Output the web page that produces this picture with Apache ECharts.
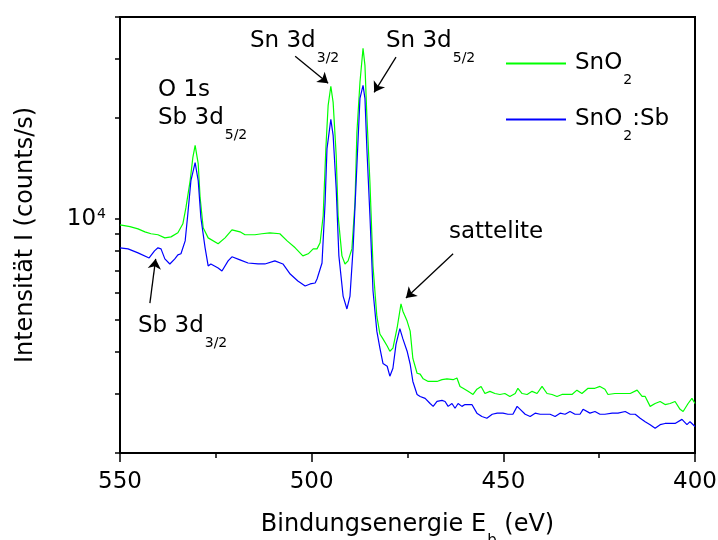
<!DOCTYPE html>
<html><head><meta charset="utf-8">
<script src="https://cdn.jsdelivr.net/npm/echarts@6/dist/echarts.min.js"></script>
<style>html,body{margin:0;padding:0;background:#fff}#c{width:718px;height:540px}</style>
</head><body><div id="c"></div>
<script>
const FONT = 'DejaVu Sans';
const seriesNames = ['SnO2', 'SnO2:Sb'];
// [binding energy (eV), intensity (counts/s)]
const snO2 = [[550.0,9590],[547.4,9470],[545.3,9330],[543.5,9140],[541.9,9020],[540.1,8960],[538.3,8770],[536.7,8830],[534.9,9080],[533.6,9660],[532.8,10790],[531.7,13000],[531.0,15220],[530.4,16550],[529.6,14610],[529.1,11560],[528.3,9400],[527.0,8770],[524.4,8420],[522.6,8770],[520.8,9270],[518.7,9140],[517.4,8960],[514.8,8960],[513.0,9020],[510.9,9080],[508.3,9020],[506.4,8590],[504.3,8190],[502.3,7750],[500.9,7860],[499.6,8130],[498.6,8130],[497.8,8480],[497.0,10210],[496.3,16200],[495.7,21800],[495.0,24850],[494.4,22250],[493.6,15440],[493.1,10210],[492.1,7750],[491.3,7330],[490.5,7485],[489.5,8130],[488.7,11170],[488.2,18090],[487.4,25540],[486.6,32280],[486.1,28690],[485.6,20300],[484.8,12820],[484.0,7230],[483.0,5120],[482.2,4530],[481.4,4380],[480.3,4170],[479.6,4025],[478.8,4110],[477.7,4730],[476.7,5570],[476.2,5300],[475.1,4950],[474.3,4620],[473.6,3830],[472.5,3460],[471.7,3440],[470.9,3330],[469.6,3270],[468.3,3270],[467.3,3270],[466.0,3310],[464.7,3330],[463.1,3310],[462.1,3350],[461.3,3160],[460.5,3120],[459.2,3055],[457.9,2990],[456.9,3100],[455.8,3160],[454.8,3010],[453.5,3055],[452.2,3010],[450.9,2990],[449.6,3010],[448.3,2950],[446.9,3010],[446.2,3120],[445.1,3010],[443.8,2990],[442.5,3055],[441.2,3010],[439.9,3160],[438.6,3010],[437.3,2990],[436.0,2950],[434.7,2990],[433.4,2990],[432.1,2990],[430.8,3080],[429.5,3010],[427.9,3120],[426.1,3120],[424.8,3160],[423.5,3100],[422.7,2990],[420.9,3010],[419.6,3010],[418.2,3010],[416.9,3010],[415.1,3080],[413.8,2950],[413.0,2950],[411.7,2755],[410.4,2810],[409.1,2850],[407.8,2790],[406.5,2810],[405.2,2850],[403.9,2700],[403.1,2660],[401.8,2810],[400.8,2910],[400.0,2810]];
const snO2Sb = [[550.0,8190],[547.9,8130],[545.3,7910],[542.4,7640],[541.0,8020],[540.1,8190],[539.3,8130],[538.3,7590],[537.0,7330],[535.7,7590],[534.9,7800],[534.1,7860],[533.0,8590],[532.3,10350],[531.5,13000],[530.4,14710],[529.6,13000],[528.9,10070],[527.8,8190],[527.0,7230],[526.3,7330],[524.4,7130],[523.4,6985],[521.8,7485],[520.8,7700],[518.7,7540],[516.6,7380],[514.0,7330],[512.2,7330],[509.6,7485],[507.5,7330],[505.6,6840],[503.6,6520],[501.7,6300],[500.4,6390],[499.1,6430],[498.6,6610],[497.3,7380],[496.5,11170],[496.0,16200],[495.0,19790],[494.4,17730],[493.6,12300],[492.9,7750],[491.8,5880],[490.8,5380],[490.0,5880],[489.2,8130],[488.2,14420],[487.4,22880],[486.6,25020],[486.1,22880],[485.6,16200],[484.8,10210],[484.0,6100],[483.0,4620],[482.2,4110],[481.4,3700],[480.3,3630],[479.6,3390],[478.8,3580],[478.0,4220],[477.0,4700],[476.2,4380],[475.1,4025],[474.3,3680],[473.6,3270],[472.5,2990],[471.7,2950],[470.4,2910],[469.1,2810],[468.3,2755],[467.3,2850],[466.0,2870],[465.2,2850],[464.4,2755],[463.4,2810],[462.6,2720],[461.8,2810],[460.8,2755],[460.0,2790],[459.5,2790],[458.2,2790],[456.9,2630],[455.6,2570],[454.3,2540],[452.9,2610],[451.6,2630],[450.1,2630],[448.8,2610],[447.5,2610],[446.4,2755],[445.6,2700],[444.3,2610],[443.0,2570],[441.7,2630],[440.4,2610],[439.1,2610],[437.8,2610],[436.5,2570],[435.2,2630],[433.9,2610],[432.6,2660],[431.3,2610],[430.0,2610],[429.2,2700],[427.4,2630],[426.1,2660],[424.8,2610],[423.5,2610],[421.6,2630],[420.1,2630],[418.2,2660],[416.9,2610],[415.6,2610],[414.3,2540],[413.0,2480],[411.7,2430],[410.4,2370],[409.1,2430],[407.8,2450],[406.5,2450],[405.2,2450],[403.4,2520],[402.1,2430],[401.3,2480],[400.0,2400]];
const yTickValues = [2000,3000,4000,5000,6000,7000,8000,9000,10000,20000,30000,40000];
const yLabelValues = [10000];
const xMin = 400, xMax = 550, xInterval = 50;
const yMin = 2000, yMax = 40000;

const richMain = {fontFamily: FONT, fontSize: 23, lineHeight: 23, verticalAlign: 'top', color: '#000'};
const richSub = {fontFamily: FONT, fontSize: 14, lineHeight: 14, verticalAlign: 'top', padding: [21, 0, 0, 1], color: '#000'};
const annRich = {n: richMain, s: richSub};

function ann(x, y, text) {
  return {type: 'text', x: x, y: y, silent: true,
    style: {text: text, rich: annRich, fill: '#000', font: '23px ' + FONT, verticalAlign: 'top', align: 'left'}};
}
function arrow(a, b) {
  return [{coord: a}, {coord: b}];
}

const chart = echarts.init(document.getElementById('c'), null, {renderer: 'canvas'});
chart.setOption({
  animation: false,
  backgroundColor: '#fff',
  grid: {left: 120, top: 17, right: 23, bottom: 87, outerBoundsMode: 'none', containLabel: false,
    show: true, borderColor: '#000', borderWidth: 2, backgroundColor: 'transparent'},
  legend: {
    data: seriesNames, orient: 'vertical', left: 505, top: 52, padding: 0,
    itemWidth: 60, itemHeight: 14, itemGap: 21, selectedMode: false,
    itemStyle: {opacity: 0},
    formatter: function (name) {
      return name === 'SnO2' ? '{f|SnO}{s|2}' : '{f|SnO}{s|2}{n|:Sb}';
    },
    textStyle: {fontFamily: FONT, fontSize: 23, color: '#000', rich: {
      f: {fontFamily: FONT, fontSize: 23, lineHeight: 23, verticalAlign: 'top', padding: [0, 0, 0, 4], color: '#000'},
      n: {fontFamily: FONT, fontSize: 23, lineHeight: 23, verticalAlign: 'top', color: '#000'},
      s: {fontFamily: FONT, fontSize: 14, lineHeight: 14, verticalAlign: 'top', padding: [21, 0, 0, 1], color: '#000'}
    }}
  },
  xAxis: {
    type: 'value', min: xMin, max: xMax, interval: xInterval, inverse: true,
    name: '{n|Bindungsenergie E}{s|b}{n| (eV)}', nameLocation: 'middle', nameGap: 60,
    nameTextStyle: {fontFamily: FONT, fontSize: 24, color: '#000', rich: {
      n: {fontFamily: FONT, fontSize: 24, lineHeight: 24, verticalAlign: 'top', color: '#000'},
      s: {fontFamily: FONT, fontSize: 15, lineHeight: 15, verticalAlign: 'top', padding: [21, 0, 0, 1], color: '#000'}
    }},
    axisLine: {show: true, onZero: false, lineStyle: {color: '#000', width: 2}},
    axisTick: {show: true, inside: false, length: 9, lineStyle: {color: '#000', width: 1.5}},
    minorTick: {show: true, splitNumber: 2, length: 5, lineStyle: {color: '#000', width: 1.5}},
    axisLabel: {fontFamily: FONT, fontSize: 23, color: '#000', margin: 18},
    splitLine: {show: false}
  },
  yAxis: {
    type: 'log', logBase: 10, min: yMin, max: yMax,
    name: 'Intensität I (counts/s)', nameLocation: 'middle', nameGap: 82,
    nameTextStyle: {fontFamily: FONT, fontSize: 24, color: '#000'},
    axisLine: {show: true, onZero: false, lineStyle: {color: '#000', width: 2}},
    axisTick: {show: true, inside: false, length: 5, customValues: yTickValues, lineStyle: {color: '#000', width: 1.5}},
    axisLabel: {customValues: yLabelValues, margin: 14, fontFamily: FONT, fontSize: 23, color: '#000',
      formatter: function (v) { return '{b|10}{p|' + Math.round(Math.log10(v)) + '}'; },
      rich: {
        b: {fontFamily: FONT, fontSize: 23, lineHeight: 23, verticalAlign: 'top', color: '#000'},
        p: {fontFamily: FONT, fontSize: 14, lineHeight: 14, verticalAlign: 'top', padding: [0, 0, 0, 1], color: '#000'}
      }},
    splitLine: {show: false}
  },
  series: [
    {name: seriesNames[0], type: 'line', data: snO2, showSymbol: false, symbol: 'none',
      lineStyle: {color: '#00ff00', width: 1.2}, itemStyle: {color: '#00ff00'}, z: 2},
    {name: seriesNames[1], type: 'line', data: snO2Sb, showSymbol: false, symbol: 'none',
      lineStyle: {color: '#0000ff', width: 1.2}, itemStyle: {color: '#0000ff'}, z: 3,
      markLine: {silent: true, symbol: ['none', 'arrow'], symbolSize: 10, animation: false,
        label: {show: false}, lineStyle: {color: '#000', width: 1.3, type: 'solid'},
        data: [
          arrow([504.3, 30550], [495.7, 25360]),
          arrow([478.0, 30350], [483.7, 23840]),
          arrow([463.1, 7860], [475.4, 5800]),
          arrow([542.2, 5600], [540.7, 7590])
        ]}}
  ],
  graphic: [
    ann(158, 79, '{n|O 1s}'),
    ann(158, 107, '{n|Sb 3d}{s|5/2}'),
    ann(250, 30, '{n|Sn 3d}{s|3/2}'),
    ann(386, 30, '{n|Sn 3d}{s|5/2}'),
    ann(449, 221, '{n|sattelite}'),
    ann(138, 315, '{n|Sb 3d}{s|3/2}')
  ]
});
</script></body></html>
